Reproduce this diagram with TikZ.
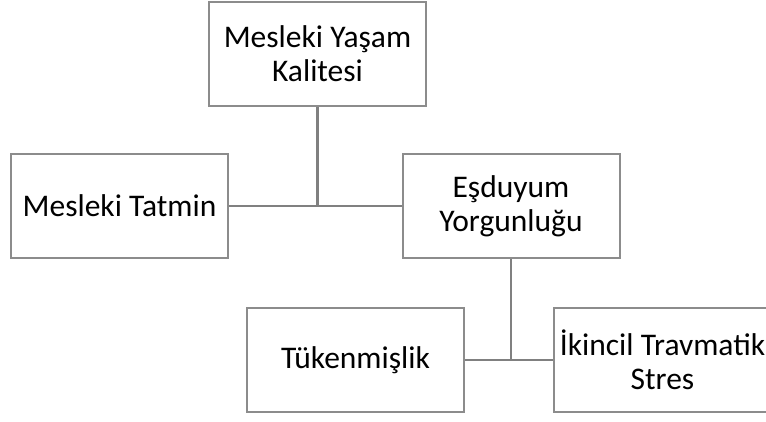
\documentclass[tikz,border=0pt]{standalone}
\usepackage{fontspec}
\setmainfont{Carlito}
\usetikzlibrary{shapes,arrows}
\definecolor{boxgray}{HTML}{8C8C8C}
\definecolor{linegray}{HTML}{808080}
\tikzstyle{block} = [rectangle, draw=boxgray, line width=2pt, fill=white,
    align=center, minimum width=217pt, minimum height=104pt, inner xsep=0pt,
    font=\fontsize{31.5}{34}\selectfont]
\tikzstyle{line} = [draw=linegray, line width=2.2pt]

\begin{document}
\begin{tikzpicture}[node distance = 152pt]
    \useasboundingbox (0,0) rectangle (766pt,-421pt);
    % Place nodes
    \node [block] (quality) at (317.5pt,-54pt) {Mesleki Yaşam\\Kalitesi};
    \node [block, below of=quality, xshift=-198pt] (satisfaction) {Mesleki Tatmin};
    \node [block, below of=quality, xshift=193.5pt] (fatigue) {Eşduyum\\Yorgunluğu};
    \node [block, below of=fatigue, node distance=154pt, xshift=-155.5pt] (burnout) {Tükenmişlik};
    \node [block, below of=fatigue, node distance=154pt, xshift=151.5pt] (stress) {İkincil Travmatik\\Stres};
    \coordinate (upper) at (quality.south |- satisfaction.east);
    \coordinate (lower) at (fatigue.south |- burnout.east);
    % Draw edges
    \path [line] (quality.south) -- (upper);
    \path [line] (satisfaction.east) -- (fatigue.west);
    \path [line] (fatigue.south) -- (lower);
    \path [line] (burnout.east) -- (stress.west);

\end{tikzpicture}
\end{document}
